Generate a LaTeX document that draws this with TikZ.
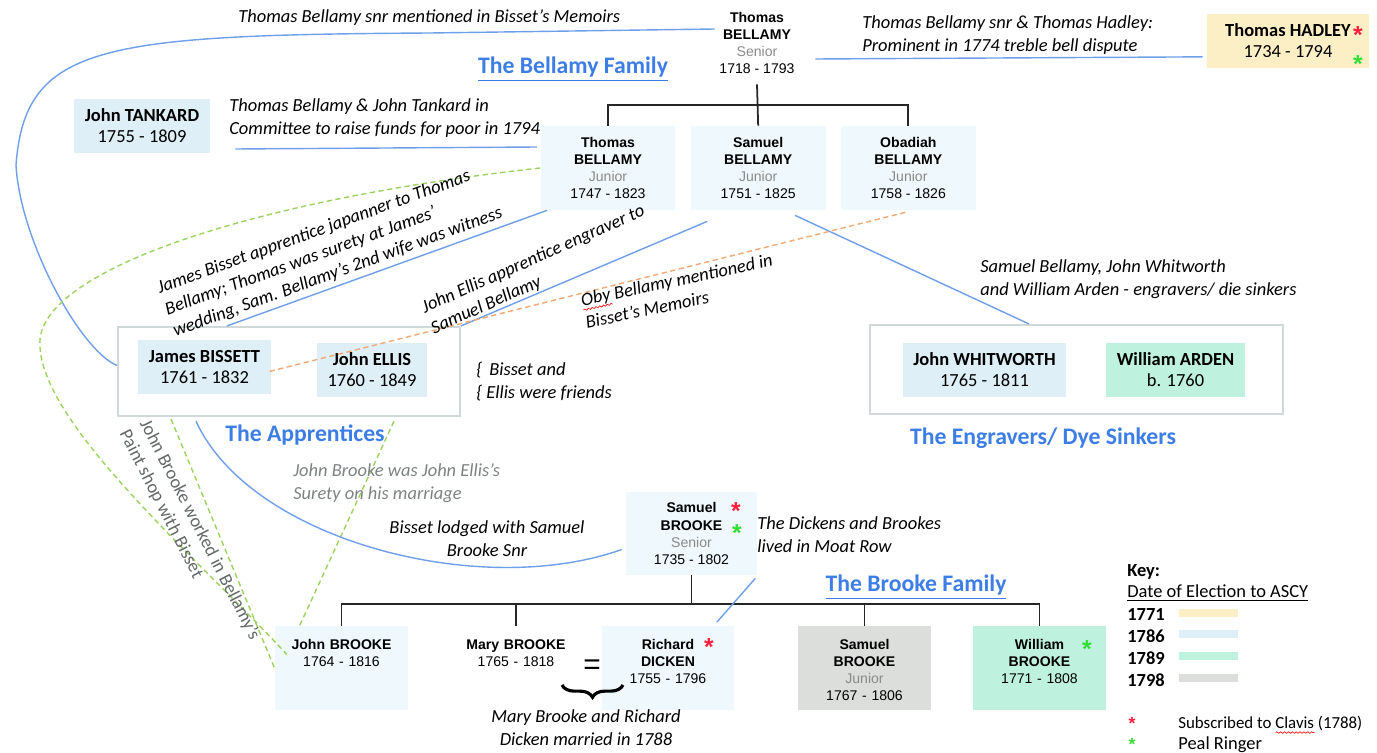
\documentclass[tikz,border=0pt]{standalone}
\usepackage{fontspec}
\setmainfont{Carlito}
\newfontfamily\arial{Liberation Sans}
\usetikzlibrary{positioning,calc,decorations.pathreplacing,decorations.pathmorphing}

\definecolor{linkblue}{HTML}{6F9FE8}
\definecolor{titleblue}{HTML}{3C7DE6}
\definecolor{lgreen}{HTML}{9CD35F}
\definecolor{lorange}{HTML}{F3A973}
\definecolor{boxblue}{HTML}{DEEFF8}
\definecolor{paleblue}{HTML}{EFF9FD}
\definecolor{boxyellow}{HTML}{FCEFC6}
\definecolor{boxmint}{HTML}{BEF2DE}
\definecolor{boxgray}{HTML}{DCDEDC}
\definecolor{framegray}{HTML}{CFD9D9}
\definecolor{subgray}{HTML}{8A8A8A}
\definecolor{notegray}{HTML}{7C8282}
\definecolor{starred}{HTML}{FF1F3D}
\definecolor{stargreen}{HTML}{33DD33}

\newsavebox{\wavebox}
\newcommand{\spellwave}[1]{\sbox{\wavebox}{#1}\rlap{\tikz[baseline=0pt]\draw[red,line width=0.35pt,decorate,decoration={snake,amplitude=0.45pt,segment length=2.2pt}] (0pt,-2.2pt) -- (\wd\wavebox,-2.2pt);}\usebox{\wavebox}}

\begin{document}
\begin{tikzpicture}[x=0.02cm,y=-0.02cm,
        arl/.style={font=\arial\fontsize{8}{9.7}\selectfont},
        fam/.style={arl,align=center,fill=paleblue,minimum width=2.7cm,minimum height=1.68cm,inner sep=0pt},
        cal/.style={font=\fontsize{10.5}{12}\selectfont,align=center,fill=boxblue,inner sep=0pt},
        brow/.style={arl,anchor=north,text width=2.66cm,align=center,inner xsep=0pt,inner ysep=7pt,text height=6pt,text depth=27.8pt},
        note/.style={font=\fontsize{10.5}{13}\selectfont\itshape,align=left,inner sep=0pt},
        famtitle/.style={font=\fontsize{13.5}{16}\selectfont\bfseries,text=titleblue},
        grpframe/.style={draw=framegray,line width=1.2pt,inner sep=0pt},
        link/.style={draw=linkblue,line width=0.8pt},
        gdash/.style={draw=lgreen,line width=0.8pt,dash pattern=on 3pt off 2pt},
        odash/.style={draw=lorange,line width=0.8pt,dash pattern=on 3pt off 2pt},
        tree/.style={draw=black!85,line width=1pt},
        astx/.style={font=\arial\fontsize{14}{14}\selectfont\bfseries,inner sep=0pt},
        keytxt/.style={font=\fontsize{10.5}{12}\selectfont,anchor=west,inner sep=0pt}]
        \useasboundingbox (0,0) rectangle (1377,753);

        \node[arl,align=center,minimum width=2.32cm,minimum height=1.64cm,inner sep=0pt] (tbsr) at (757,43) {\textbf{Thomas}\\\textbf{BELLAMY}\\\textcolor{subgray}{Senior}\\1718 - 1793};
        \node[fam] (tbjr) at (608,168) {\textbf{Thomas}\\\textbf{BELLAMY}\\\textcolor{subgray}{Junior}\\1747 - 1823};
        \node[fam,right=0.29cm of tbjr] (sbjr) {\textbf{Samuel}\\\textbf{BELLAMY}\\\textcolor{subgray}{Junior}\\1751 - 1825};
        \node[fam,right=0.29cm of sbjr] (obbjr) {\textbf{Obadiah}\\\textbf{BELLAMY}\\\textcolor{subgray}{Junior}\\1758 - 1826};
        \node[famtitle] (bellamyt) at (573,69) {\underline{The Bellamy Family}};

        \node[cal,minimum width=2.72cm,minimum height=1.1cm] (tankard) at (142,126) {\textbf{John TANKARD}\\1755 - 1809};
        \node[cal,fill=boxyellow,minimum width=3.24cm,minimum height=1.1cm] (hadley) at (1288,41) {\textbf{Thomas HADLEY}\\1734 - 1794};
        \node[astx,text=starred] (hadley-r) at (1358,35) {*};
        \node[astx,text=stargreen] (hadley-g) at (1358,64) {*};

        \node[grpframe,minimum width=6.84cm,minimum height=1.78cm] (appr) at (289,371.5) {};
        \node[cal,minimum width=2.66cm,minimum height=1.08cm] (jbis) at (204.5,367) {\textbf{James BISSETT}\\1761 - 1832};
        \node[cal,minimum width=2.2cm,minimum height=1.08cm] (jellis) at (372,370) {\textbf{John ELLIS}\\1760 - 1849};
        \node[famtitle] (apprt) at (305,435) {The Apprentices};

        \node[grpframe,minimum width=8.26cm,minimum height=1.78cm] (engr) at (1076.5,369.5) {};
        \node[cal,minimum width=3.26cm,minimum height=1.08cm] (jwhit) at (984.5,370) {\textbf{John WHITWORTH}\\1765 - 1811};
        \node[cal,fill=boxmint,minimum width=2.78cm,minimum height=1.08cm] (warden) at (1175.5,370) {\textbf{William ARDEN}\\b. 1760};
        \node[famtitle] (engrt) at (1043,438) {The Engravers/ Dye Sinkers};

        \node[fam,minimum width=2.62cm,minimum height=1.66cm] (sbsr) at (691.5,533.5) {\textbf{Samuel}\\\textbf{BROOKE}\\\textcolor{subgray}{Senior}\\1735 - 1802};
        \node[astx,text=starred] (sbsr-r) at (736,511) {*};
        \node[astx,text=stargreen] (sbsr-g) at (737,533) {*};
        \node[famtitle] (brooket) at (916,587) {\underline{The Brooke Family}};

        \node[brow,fill=paleblue] (jbrooke) at (341.5,626) {\textbf{John BROOKE}\\1764 - 1816};
        \node[brow] (mbrooke) at (516,626) {\textbf{Mary BROOKE}\\1765 - 1818};
        \node[brow,fill=paleblue] (rdicken) at (668,626) {\textbf{Richard}\\\textbf{DICKEN}\\1755 - 1796};
        \node[brow,fill=boxgray] (sbjun) at (864.5,626) {\textbf{Samuel}\\\textbf{BROOKE}\\\textcolor{subgray}{Junior}\\1767 - 1806};
        \node[brow,fill=boxmint] (wbrooke) at (1039.5,626) {\textbf{William}\\\textbf{BROOKE}\\1771 - 1808};
        \node[astx,text=starred] (rdicken-r) at (709,647) {*};
        \node[astx,text=stargreen] (wbrooke-g) at (1087,649) {*};
        \node[font=\arial\fontsize{17}{17}\selectfont,inner sep=0pt] (eqsign) at (592,667) {=};
        \draw[decorate,decoration={brace,amplitude=7pt,mirror},line width=1.8pt] ($(eqsign)+(-30,18)$) -- ($(eqsign)+(31,18)$);

        \draw[tree] (tbsr.south) -- (sbjr.north);
        \draw[tree] (tbjr.north) |- ($(tbsr.south)+(0,21)$) -| (obbjr.north);
        \draw[tree] (sbsr.south) -- ++(0,29) coordinate (bbar);
        \draw[tree] (jbrooke.north) |- (bbar) -| (wbrooke.north);
        \draw[tree] (mbrooke.north) -- (mbrooke.north |- bbar);
        \draw[tree] (sbjun.north) -- (sbjun.north |- bbar);

        \draw[link] ($(tbsr.west)+(16,-14)$) -- (430,33) .. controls (100,35) and (25,45) .. (16,165) .. controls (20,240) and (80,350) .. ($(appr.west)+(0,-6)$);
        \draw[link] ($(tbsr.east)+(0,16)$) -- ($(hadley.south west)+(-4,-12)$);
        \draw[link] ($(tankard.east)+(25,23)$) -- ($(tbjr.west)+(-3,-21)$);
        \draw[link] ($(tbjr.south west)+(7,0)$) -- ($(appr.north west)+(110,0)$);
        \draw[link] ($(sbjr.south west)+(17,11)$) -- (appr.north east);
        \draw[link] ($(sbjr.south east)+(-31,5)$) -- ($(engr.north west)+(160,0)$);
        \draw[odash] ($(obbjr.south)+(-3,2)$) -- ($(jbis.east)+(-4,5)$);
        \draw[gdash] (tbjr.west) .. controls (250,200) and (45,270) .. (40,340) .. controls (35,420) and (200,560) .. ($(jbrooke.west)+(12,-14)$);
        \draw[gdash] ($(appr.south west)+(54,2)$) -- (jbrooke.west);
        \draw[gdash] ($(appr.south east)+(-67,4)$) -- ($(jbrooke.north)+(-42,0)$);
        \draw[link] ($(appr.south west)+(79,4)$) .. controls (250,540) and (480,600) .. ($(sbsr.west)+(-4,16)$);
        \draw[link] ($(rdicken.north)+(49,-4)$) -- ($(sbsr.south east)+(-2,3)$);

        \node[note,anchor=west] (n-memoirs) at (238,18) {Thomas Bellamy snr mentioned in Bisset's Memoirs};
        \node[note,anchor=west] (n-tankard) at (229,118.5) {Thomas Bellamy \& John Tankard in\\Committee to raise funds for poor in 1794};
        \node[note,anchor=west] (n-hadley) at (862,35) {Thomas Bellamy snr \& Thomas Hadley:\\Prominent in 1774 treble bell dispute};
        \node[note,rotate=20] (n-japan) at (330,251) {James Bisset apprentice japanner to Thomas\\Bellamy; Thomas was surety at James'\\wedding, Sam. Bellamy's 2nd wife was witness};
        \node[note,rotate=24] (n-ellis) at (538,270) {John Ellis apprentice engraver to\\Samuel Bellamy};
        \node[note,rotate=12] (n-oby) at (679,291) {\spellwave{Oby} Bellamy mentioned in\\Bisset's Memoirs};
        \node[note,anchor=west] (n-engr) at (980,279) {Samuel Bellamy, John Whitworth\\and William Arden - engravers/ die sinkers};
        \node[note,anchor=west] (n-friends) at (476,382) {\{\, Bisset and\\\{ Ellis were friends};
        \node[note,anchor=west,text=notegray] (n-surety) at (293,483) {John Brooke was John Ellis's\\Surety on his marriage};
        \node[note,font=\fontsize{10.5}{13}\selectfont,text=notegray!80!black,rotate=-63] (n-paint) at (189.5,535) {John Brooke worked in Bellamy's\\Paint shop with Bisset};
        \node[note,align=center] (n-lodged) at (487,538.5) {Bisset lodged with Samuel\\Brooke Snr};
        \node[note,anchor=west] (n-moat) at (757,535) {The Dickens and Brookes\\lived in Moat Row};
        \node[note,align=center] (n-married) at (586,727.5) {Mary Brooke and Richard\\Dicken married in 1788};

        \node[keytxt] (keyh) at (1127,572) {\textbf{Key:}};
        \node[keytxt] (keyd) at (1127,593) {\underline{Date of Election to ASCY}};
        \node[keytxt] (k1771) at (1127,615) {\textbf{1771}};
        \node[keytxt] (k1786) at (1127,636) {\textbf{1786}};
        \node[keytxt] (k1789) at (1127,658) {\textbf{1789}};
        \node[keytxt] (k1798) at (1127,680) {\textbf{1798}};
        \fill[boxyellow] ($(k1771.west)+(52,-6)$) rectangle ++(59,8);
        \fill[boxblue] ($(k1786.west)+(52,-6)$) rectangle ++(59,8);
        \fill[boxmint] ($(k1789.west)+(52,-6)$) rectangle ++(59,8);
        \fill[boxgray] ($(k1798.west)+(52,-6)$) rectangle ++(59,8);
        \node[astx,font=\arial\fontsize{10}{10}\selectfont\bfseries,text=starred] (key-r) at (1132,723) {*};
        \node[astx,font=\arial\fontsize{10}{10}\selectfont\bfseries,text=stargreen] (key-g) at (1132,744) {*};
        \node[keytxt,font=\fontsize{9.6}{12}\selectfont] (keyclavis) at (1178,725) {Subscribed to \spellwave{Clavis} (1788)};
        \node[keytxt] (keypeal) at (1178,745) {Peal Ringer};
        \end{tikzpicture}
\end{document}
